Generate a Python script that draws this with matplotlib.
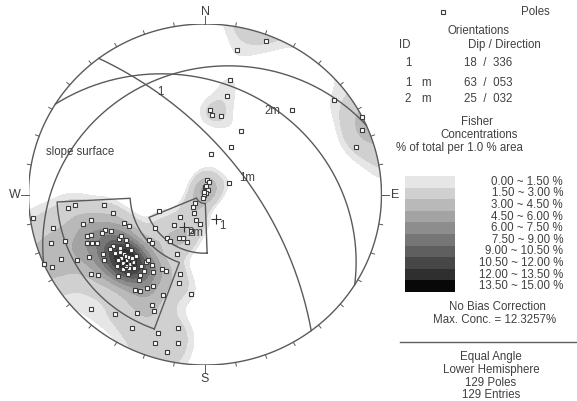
import numpy as np
import matplotlib
matplotlib.use('Agg')
import matplotlib.pyplot as plt
from matplotlib.patches import Circle

plt.rcParams['font.family'] = ['Liberation Sans', 'DejaVu Sans']

# poles (trend / plunge, degrees)
pole_trend = [21,12,12,12,3,5,11,45,53,63,67,72,29,28,8,63,7,17,0,33,33,243,209,229,223,210,199,189,
              249,228,224,235,220,216,210,206,200,200,204,197,196,188,262,257,252,245,244,242,251,246,
              264,265,264,258,256,257,250,250,247,246,245,250,248,249,250,247,242,243,239,236,241,239,
              236,236,235,233,232,232,229,229,226,226,225,227,226,234,232,223,218,217,220,220,216,213,
              209,206,230,227,211,209,215,213,202,205,203,209,224,216,208,191,198,198,190,193,237,231,
              230,228,227,223,240,221,232,227,218,230,239,6,345]
pole_plunge = [2,8,21,29,37,40,40,20,5,0,2,6,44,55,63,73,80,81,85,86,89,89,87,81,79,76,72,70,
               59,68,62,52,53,53,57,58,57,64,48,38,33,29,1,7,5,6,2,11,10,0,
               14,17,30,34,19,23,19,21,18,20,22,28,30,26,38,40,32,34,35,34,16,22,
               21,27,29,30,28,26,27,29,29,31,27,25,21,13,15,25,28,26,35,37,36,33,
               37,37,45,45,25,27,21,22,25,19,17,13,4,8,7,13,9,5,7,3,30,30,
               31,32,27,29,28,32,34,34,31,24,26,84,88]

# planes: id, dip, dip direction
plane_ids = ['1', '1m', '2m']
plane_dip = [18, 63, 25]
plane_ddir = [336, 53, 32]

# set windows: trend range, plunge range
win_trend = [(200, 267), (178, 247)]
win_plunge = [(10, 44), (52, 84)]

# Fisher concentration bands (% of total per 1 % area)
band_edges = [0.0, 1.5, 3.0, 4.5, 6.0, 7.5, 9.0, 10.5, 12.0, 13.5, 15.0]
band_colors = ['#e6e6e6', '#d0d0d0', '#b9b9b9', '#a3a3a3', '#8d8d8d',
               '#767676', '#5f5f5f', '#474747', '#2f2f2f', '#080808']
kappa = 80
white_below = 1.0

TXT = '#404040'
LINE = '#5a5a5a'
W, H = 577, 401


def proj(tr, pl):
    tr = np.radians(np.asarray(tr, float))
    pl = np.radians(np.asarray(pl, float))
    r = np.tan((np.pi/2 - pl)/2)
    return r*np.sin(tr), r*np.cos(tr)


def vec(tr, pl):
    tr = np.radians(np.asarray(tr, float))
    pl = np.radians(np.asarray(pl, float))
    return np.stack([np.cos(pl)*np.sin(tr), np.cos(pl)*np.cos(tr), -np.sin(pl)], -1)


def great_circle(dip, ddir, n=200):
    t = np.linspace(0, np.pi, n)
    s = vec(ddir - 90, 0)
    d = vec(ddir, dip)
    v = np.outer(np.cos(t), s) + np.outer(np.sin(t), d)
    pl = np.degrees(np.arcsin(np.clip(-v[:, 2], -1, 1)))
    tr = np.degrees(np.arctan2(v[:, 0], v[:, 1]))
    return proj(tr, pl)


def fpx(x, y):
    return x/W, 1 - y/H


fig = plt.figure(figsize=(W/100, H/100), dpi=100)
ax = fig.add_axes([28.5/W, 36/H, 353/W, 341/H])
ax.set_xlim(-1, 1)
ax.set_ylim(-1, 1)
ax.axis('off')

# density grid
g = np.linspace(-1, 1, 301)
gx, gy = np.meshgrid(g, g)
gr = np.hypot(gx, gy)
gpl = 90 - 2*np.degrees(np.arctan(gr))
gtr = np.degrees(np.arctan2(gx, gy))
gv = vec(gtr, gpl)
pv = vec(pole_trend, pole_plunge)
c = np.abs(gv @ pv.T)
dens = kappa/len(pole_trend)*np.exp(kappa*(c - 1)).sum(-1)
dens[gr > 1.02] = np.nan
levels = [white_below] + band_edges[1:]
cf = ax.contourf(gx, gy, dens, levels=levels, colors=band_colors, extend='neither')
clip = Circle((0, 0), 1, transform=ax.transData)
cf.set_clip_path(clip)

# primitive and ticks
th = np.linspace(0, 2*np.pi, 400)
ax.plot(np.sin(th), np.cos(th), color=LINE, lw=1)
for az in range(0, 360, 10):
    a = np.radians(az)
    r1 = 1.045 if az % 90 == 0 else 1.022
    ax.plot([np.sin(a), r1*np.sin(a)], [np.cos(a), r1*np.cos(a)], color=LINE, lw=0.7, clip_on=False)
ax.text(0, 1.072, 'N', ha='center', va='center', fontsize=9, color=TXT)
ax.text(0, -1.08, 'S', ha='center', va='center', fontsize=9, color=TXT)
ax.text(1.078, 0, 'E', ha='center', va='center', fontsize=9, color=TXT)
ax.text(-1.08, 0, 'W', ha='center', va='center', fontsize=9, color=TXT)

# great circles
offs = {'1': (3, -8), '1m': (0, -6), '2m': (0, -6)}
for pid, dp, dd in zip(plane_ids, plane_dip, plane_ddir):
    x, y = great_circle(dp, dd)
    ax.plot(x, y, color=LINE, lw=1)
    mx, my = proj(dd, dp)
    ax.annotate(pid, (mx, my), xytext=offs[pid], textcoords='offset points',
                fontsize=8.3, color=TXT, ha='left', va='center')
    px_, py_ = proj(dd + 180, 90 - dp)
    ax.plot(px_, py_, '+', color='#303030', ms=7, mew=0.8)
    ax.annotate(pid, (px_, py_), xytext=(2, -5), textcoords='offset points',
                fontsize=8.3, color=TXT, ha='left', va='center')

# set windows
for (t1, t2), (p1, p2) in zip(win_trend, win_plunge):
    tt = np.linspace(t1, t2, 60)
    wt = np.concatenate([tt, [t2], tt[::-1], [t1]])
    wp = np.concatenate([np.full(60, p1), [p2], np.full(60, p2), [p1]])
    wx, wy = proj(wt, wp)
    ax.plot(wx, wy, color=LINE, lw=1)

# poles
x, y = proj(pole_trend, pole_plunge)
ax.plot(x, y, 's', mfc='white', mec='#3a3a3a', ms=3.2, mew=0.8, ls='none')

ax.text(-0.9, 0.25, 'slope surface', fontsize=8.3, color=TXT, ha='left', va='center')

# legend
fs = 8.3
ft = dict(fontsize=fs, color=TXT, va='center')
fig.add_artist(plt.Line2D([443/W], [1 - 12/H], marker='s', ms=3.2, mfc='white', mec='#3a3a3a', mew=0.8))
fig.text(*fpx(535, 12), 'Poles', ha='center', **ft)
fig.text(*fpx(479, 31), 'Orientations', ha='center', **ft)
fig.text(*fpx(405, 45), 'ID', ha='center', **ft)
fig.text(*fpx(504, 45), 'Dip / Direction', ha='center', **ft)
rows = [('1', '', 63), ('1', 'm', 83), ('2', 'm', 99)]
for (num, m, yy), dp, dd in zip(rows, plane_dip, plane_ddir):
    fig.text(*fpx(408, yy), num, ha='center', **ft)
    fig.text(*fpx(426, yy), m, ha='center', **ft)
    fig.text(*fpx(488, yy), '%d  /  %03d' % (dp, dd), ha='center', **ft)
fig.text(*fpx(477, 122), 'Fisher', ha='center', **ft)
fig.text(*fpx(479, 135), 'Concentrations', ha='center', **ft)
fig.text(*fpx(459, 148), '% of total per 1.0 % area', ha='center', **ft)

cax = fig.add_axes([405/W, 1 - 292/H, 50/W, 116/H])
nb = len(band_colors)
cax.bar(np.zeros(nb), np.diff(band_edges), bottom=band_edges[:-1], width=1,
        color=band_colors, edgecolor='none')
cax.set_xlim(-0.5, 0.5)
cax.set_ylim(band_edges[-1], band_edges[0])
cax.axis('off')
for i in range(nb):
    yy = 176 + 116/nb*(i + 0.5)
    fig.text(*fpx(563, yy), '%.2f ~ %.2f %%' % (band_edges[i], band_edges[i + 1]), ha='right', **ft)

fig.text(*fpx(497, 307), 'No Bias Correction', ha='center', **ft)
fig.text(*fpx(495, 320), 'Max. Conc. = 12.3257%', ha='center', **ft)
fig.add_artist(plt.Line2D([400/W, 1], [1 - 342/H, 1 - 342/H], color='#606060', lw=1))
for yy, s in zip([357, 370, 383, 395], ['Equal Angle', 'Lower Hemisphere', '129 Poles', '129 Entries']):
    fig.text(*fpx(491, yy), s, ha='center', **ft)

fig.savefig('out.png', dpi=100, facecolor='white')
